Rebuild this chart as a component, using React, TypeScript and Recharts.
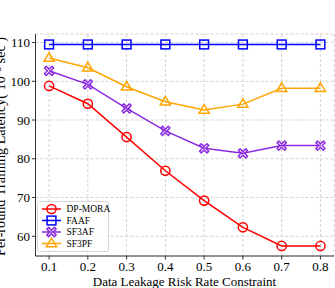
import React from 'react';
import { LineChart, Line, XAxis, YAxis, CartesianGrid, Customized } from 'recharts';

const xValues = [0.1, 0.2, 0.3, 0.4, 0.5, 0.6, 0.7, 0.8];
const dpMora = [98.8, 94.2, 85.6, 76.9, 69.2, 62.3, 57.5, 57.5];
const faaf = [109.5, 109.5, 109.5, 109.5, 109.5, 109.5, 109.5, 109.5];
const sf3af = [102.7, 99.2, 93.0, 87.2, 82.7, 81.4, 83.4, 83.4];
const sf3pf = [106.0, 103.5, 98.6, 94.7, 92.6, 94.1, 98.2, 98.2];
const xTicks = [0.1, 0.2, 0.3, 0.4, 0.5, 0.6, 0.7, 0.8];
const yTicks = [60, 70, 80, 90, 100, 110];
const seriesNames = ['DP-MORA', 'FAAF', 'SF3AF', 'SF3PF'];
const seriesKeys = ['dp', 'faaf', 'sf3af', 'sf3pf'];
const seriesColors = ['#ff0000', '#0000ff', '#8a2be2', '#ffa500'];
const seriesMarkers = ['circle', 'square', 'x', 'triangle'];

const data = xValues.map((x, i) => ({
  x,
  dp: dpMora[i],
  faaf: faaf[i],
  sf3af: sf3af[i],
  sf3pf: sf3pf[i],
}));

const FONT = '"Liberation Serif", "Times New Roman", serif';

function Marker({ type, cx, cy, color, s = 1 }: any) {
  if (cx == null || cy == null) return null;
  const sw = 1.5;
  if (type === 'circle') {
    return <circle cx={cx} cy={cy} r={4.6 * s} fill="none" stroke={color} strokeWidth={sw} />;
  }
  if (type === 'square') {
    const h = 4.4 * s;
    return <rect x={cx - h} y={cy - h} width={2 * h} height={2 * h} fill="none" stroke={color} strokeWidth={sw} />;
  }
  if (type === 'triangle') {
    const r = 5.4 * s;
    const pts = `${cx},${cy - r} ${cx + r * 0.95},${cy + r * 0.6} ${cx - r * 0.95},${cy + r * 0.6}`;
    return <polygon points={pts} fill="none" stroke={color} strokeWidth={sw} strokeLinejoin="miter" />;
  }
  // thick X outline
  const a = 4.6 * s;
  const b = 1.7 * s;
  const pts = [
    [-a, -a + b], [-a + b, -a], [0, -b], [a - b, -a], [a, -a + b], [b, 0],
    [a, a - b], [a - b, a], [0, b], [-a + b, a], [-a, a - b], [-b, 0],
  ]
    .map(([dx, dy]) => `${cx + dx},${cy + dy}`)
    .join(' ');
  return <polygon points={pts} fill="none" stroke={color} strokeWidth={sw} strokeLinejoin="round" />;
}

function LegendBox() {
  const x0 = 37.5;
  const y0 = 201.5;
  const rows = [209, 220.5, 232, 243.5];
  return (
    <g>
      <rect x={x0} y={y0} width={71} height={50} rx={2} fill="#ffffff" fillOpacity={0.8} stroke="#cccccc" strokeWidth={0.8} />
      {seriesNames.map((n, i) => (
        <g key={n}>
          <line x1={42} x2={61} y1={rows[i]} y2={rows[i]} stroke={seriesColors[i]} strokeWidth={1.5} />
          <Marker type={seriesMarkers[i]} cx={51.5} cy={rows[i]} color={seriesColors[i]} />
          <text x={66.5} y={rows[i]} dy="0.35em" fontFamily={FONT} fontSize={9.5} fill="#000">
            {n}
          </text>
        </g>
      ))}
    </g>
  );
}

function YLabel() {
  return (
    <text
      x={0}
      y={0}
      transform="translate(5,146.5) rotate(-90)"
      textAnchor="middle"
      fontFamily={FONT}
      fontSize={14.2}
      fill="#000"
    >
      Per-round Training Latency( 10⁻³ sec )
    </text>
  );
}

function XLabel() {
  return (
    <text x={184.5} y={281} dy="0.35em" textAnchor="middle" fontFamily={FONT} fontSize={13} fill="#000">
      Data Leakage Risk Rate Constraint
    </text>
  );
}

export default function App() {
  const tickStyle = { fontFamily: FONT, fontSize: 13, fill: '#000' };
  return (
    <div style={{ position: 'absolute', left: 0, top: 0 }}>
      <LineChart width={335} height={288} data={data} margin={{ top: 34, right: 1, left: 0, bottom: 0 }}>
        <CartesianGrid stroke="#c8c8c8" strokeDasharray="3 2" strokeWidth={0.8} horizontal vertical />
        <XAxis
          dataKey="x"
          type="number"
          domain={[0.065, 0.835]}
          ticks={xTicks}
          allowDataOverflow
          height={32}
          tick={tickStyle}
          tickSize={3.5}
          tickMargin={2}
          stroke="#333"
          axisLine={{ stroke: '#333', strokeWidth: 1 }}
          tickLine={{ stroke: '#333' }}
          tickFormatter={(v: number) => v.toFixed(1)}
        />
        <XAxis xAxisId="top" dataKey="x" type="number" domain={[0.065, 0.835]} orientation="top" height={0} tick={false} tickLine={false} axisLine={{ stroke: '#333', strokeWidth: 1 }} />
        <YAxis
          type="number"
          domain={[54.9, 112.2]}
          ticks={yTicks}
          allowDataOverflow
          width={35.5}
          tick={tickStyle}
          tickSize={3.5}
          tickMargin={2}
          axisLine={{ stroke: '#333', strokeWidth: 1 }}
          tickLine={{ stroke: '#333' }}
        />
        <YAxis yAxisId="right" orientation="right" width={0} tick={false} tickLine={false} axisLine={{ stroke: '#333', strokeWidth: 1 }} />
        {seriesKeys.map((k, i) => (
          <Line
            key={k}
            dataKey={k}
            name={seriesNames[i]}
            stroke={seriesColors[i]}
            strokeWidth={1.5}
            isAnimationActive={false}
            dot={(p: any) => <Marker key={`${k}-${p.index}`} type={seriesMarkers[i]} cx={p.cx} cy={p.cy} color={seriesColors[i]} />}
            activeDot={false}
          />
        ))}
        <Customized component={LegendBox} />
        <Customized component={YLabel} />
        <Customized component={XLabel} />
      </LineChart>
    </div>
  );
}
